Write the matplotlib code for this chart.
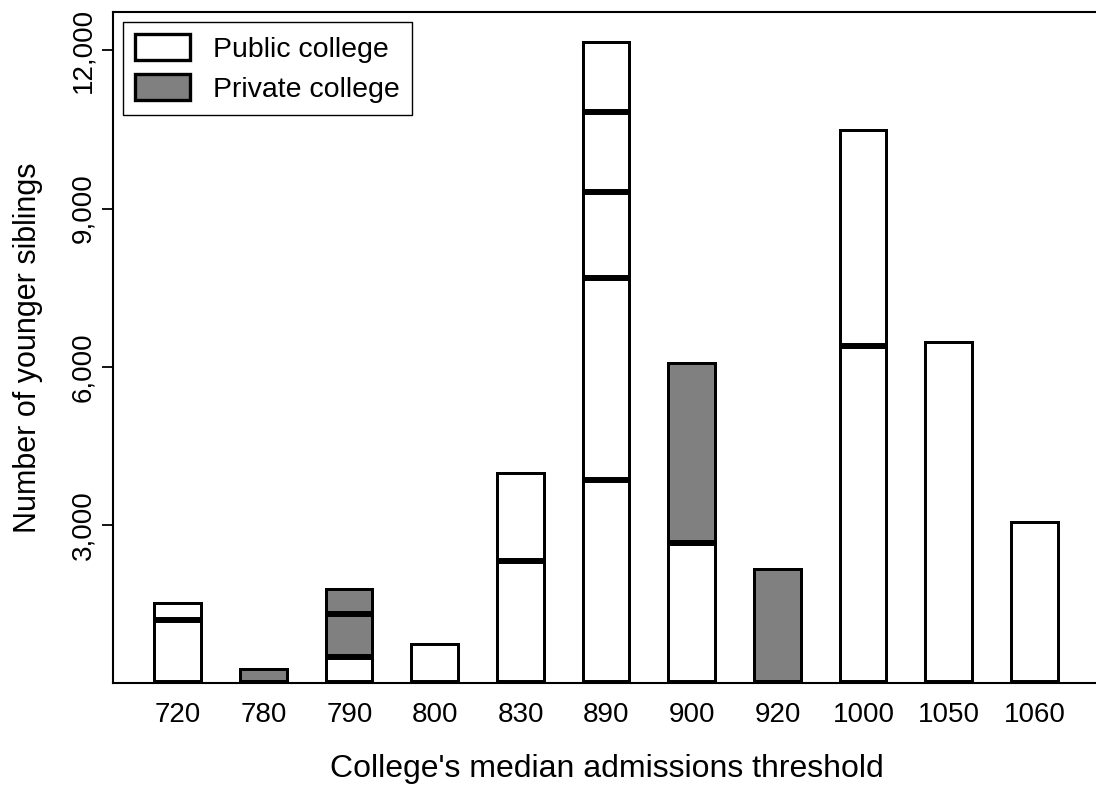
import matplotlib
matplotlib.use("Agg")
import matplotlib.pyplot as plt
from matplotlib.patches import Patch

plt.rcParams["font.family"] = ["Liberation Sans", "DejaVu Sans"]

# admissions thresholds (categories on the x axis)
thresholds = ["720", "780", "790", "800", "830", "890", "900", "920", "1000", "1050", "1060"]

# one stacked segment per college, bottom to top
seg_sizes = [
    [1205, 345],
    [300],
    [510, 800, 505],
    [770],
    [2330, 1680],
    [3860, 3830, 1630, 1510, 1350],
    [2670, 3430],
    [2190],
    [6400, 4100],
    [6490],
    [3085],
]
seg_kind = [
    ["public", "public"],
    ["private"],
    ["public", "private", "private"],
    ["public"],
    ["public", "public"],
    ["public", "public", "public", "public", "public"],
    ["public", "private"],
    ["private"],
    ["public", "public"],
    ["public"],
    ["public"],
]

y_ticks = [3000, 6000, 9000, 12000]
y_tick_labels = ["3,000", "6,000", "9,000", "12,000"]

colours = {"public": "white", "private": "#808080"}
fs_tick = 20

fig = plt.figure(figsize=(10.96, 7.85), dpi=100)
ax = fig.add_axes([0.1031, 0.1293, 0.9005, 0.8558])

for i, (sizes, kinds) in enumerate(zip(seg_sizes, seg_kind)):
    bottom = 0
    for size, kind in zip(sizes, kinds):
        bars = ax.bar(i + 1, size, bottom=bottom, width=0.58,
                      facecolor=colours[kind], edgecolor="black", linewidth=4.3)
        # keep only the inner half of the outline, like Stata draws it
        for b in bars:
            b.set_clip_path(b)
        bottom += size

ax.set_xlim(0.24, 11.76)
ax.set_ylim(0, 12730)
ax.set_xticks(range(1, len(thresholds) + 1))
ax.set_xticklabels(thresholds, fontsize=fs_tick)
ax.set_yticks(y_ticks)
ax.set_yticklabels(y_tick_labels, fontsize=fs_tick, rotation=90, va="center")
ax.tick_params(axis="x", length=0, pad=13)
ax.tick_params(axis="y", length=8, width=1.3, pad=4)

for s in ax.spines.values():
    s.set_linewidth(1.5)
ax.spines["right"].set_visible(False)

ax.set_xlabel("College's median admissions threshold", fontsize=23, labelpad=19)
ax.set_ylabel("Number of younger siblings", fontsize=22, labelpad=20)

handles = [
    Patch(facecolor="white", edgecolor="black", linewidth=2.4, label="Public college"),
    Patch(facecolor="#808080", edgecolor="black", linewidth=2.4, label="Private college"),
]
leg = ax.legend(handles=handles, loc="upper left", fontsize=20.5, fancybox=False,
                framealpha=1, edgecolor="black", borderaxespad=0.35,
                handlelength=1.95, handleheight=1.05, labelspacing=0.4,
                handletextpad=0.8, borderpad=0.42)
leg.get_frame().set_linewidth(1.0)

fig.savefig("out.png", dpi=100)
